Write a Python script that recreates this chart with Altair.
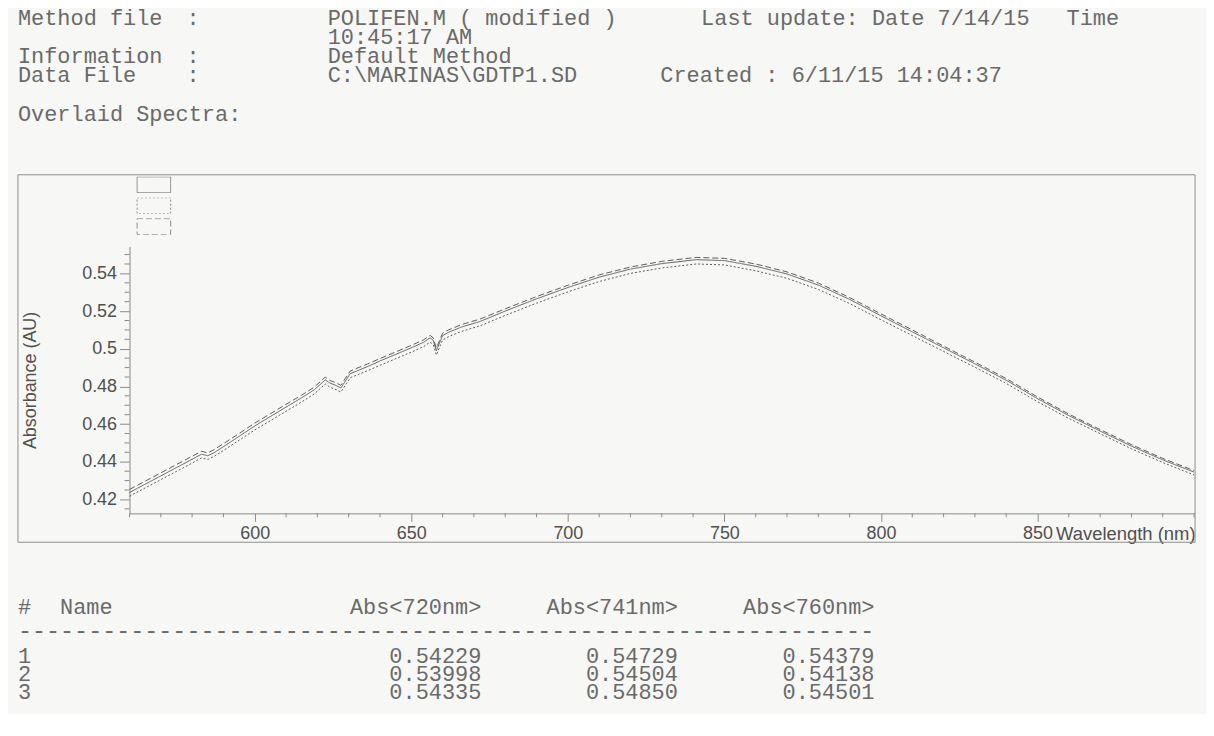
import altair as alt
import pandas as pd

# ---------------- spectra ----------------
wavelength = [560, 565, 570, 575, 580, 583, 585, 587, 590, 595,
              600, 605, 610, 615, 619, 621, 622.5, 624, 626, 627.5,
              629, 630.5, 633, 636, 640, 645, 650, 654, 656, 657,
              658, 659, 660, 662, 666, 672, 680, 690, 700, 710,
              720, 730, 741, 750, 760, 770, 780, 790, 800, 810,
              820, 830, 840, 850, 860, 870, 880, 890, 900]

abs_1 = [0.4237, 0.4281, 0.4325, 0.4369, 0.4413, 0.4440, 0.4432, 0.4448, 0.4480, 0.4535,
         0.4590, 0.4640, 0.4690, 0.4740, 0.4782, 0.4812, 0.4835, 0.4818, 0.4805, 0.4792,
         0.4830, 0.4868, 0.4885, 0.4905, 0.4935, 0.4970, 0.5005, 0.5035, 0.5058, 0.5045,
         0.4990, 0.5030, 0.5070, 0.5088, 0.5115, 0.5145, 0.5200, 0.5265, 0.5325, 0.5380,
         0.5423, 0.5452, 0.5473, 0.5468, 0.5438, 0.5397, 0.5338, 0.5262, 0.5175, 0.5090,
         0.5005, 0.4920, 0.4833, 0.4735, 0.4645, 0.4563, 0.4483, 0.4410, 0.4345]

abs_2 = [0.4217, 0.4261, 0.4305, 0.4349, 0.4393, 0.4420, 0.4412, 0.4428, 0.4460, 0.4514,
         0.4569, 0.4618, 0.4668, 0.4718, 0.4760, 0.4790, 0.4813, 0.4796, 0.4783, 0.4770,
         0.4808, 0.4846, 0.4863, 0.4883, 0.4912, 0.4947, 0.4982, 0.5012, 0.5035, 0.5022,
         0.4967, 0.5007, 0.5047, 0.5065, 0.5092, 0.5122, 0.5177, 0.5242, 0.5302, 0.5357,
         0.5400, 0.5429, 0.5450, 0.5445, 0.5414, 0.5374, 0.5315, 0.5240, 0.5154, 0.5070,
         0.4986, 0.4902, 0.4816, 0.4719, 0.4630, 0.4549, 0.4469, 0.4396, 0.4330]

abs_3 = [0.4253, 0.4297, 0.4341, 0.4385, 0.4429, 0.4456, 0.4447, 0.4464, 0.4496, 0.4550,
         0.4605, 0.4655, 0.4705, 0.4754, 0.4796, 0.4826, 0.4849, 0.4832, 0.4819, 0.4806,
         0.4844, 0.4882, 0.4899, 0.4919, 0.4948, 0.4983, 0.5018, 0.5048, 0.5071, 0.5058,
         0.5004, 0.5043, 0.5083, 0.5101, 0.5128, 0.5158, 0.5212, 0.5277, 0.5337, 0.5392,
         0.5434, 0.5464, 0.5485, 0.5480, 0.5450, 0.5408, 0.5349, 0.5272, 0.5185, 0.5100,
         0.5014, 0.4929, 0.4842, 0.4744, 0.4653, 0.4571, 0.4491, 0.4418, 0.4353]

sample_ids = ["1", "2", "3"]

# ---------------- axes ----------------
x_domain = [560, 900]
y_domain = [0.4126, 0.5543]
x_major = [600, 650, 700, 750, 800, 850]
x_minor = [560, 570, 580, 590, 610, 620, 630, 640, 660, 670, 680, 690, 710, 720, 730,
           740, 760, 770, 780, 790, 810, 820, 830, 840, 860, 870, 880, 890, 900]
y_major = [0.42, 0.44, 0.46, 0.48, 0.50, 0.52, 0.54]
y_minor = [0.415, 0.425, 0.43, 0.435, 0.445, 0.45, 0.455, 0.465, 0.47, 0.475, 0.485,
           0.49, 0.495, 0.505, 0.51, 0.515, 0.525, 0.53, 0.535, 0.545, 0.55]

# ---------------- report text ----------------
method_file = "POLIFEN.M ( modified )"
last_update = "Last update: Date 7/14/15"
last_time = "Time"
update_time = "10:45:17 AM"
information = "Default Method"
data_file = "C:\\MARINAS\\GDTP1.SD"
created = "Created : 6/11/15 14:04:37"
section = "Overlaid Spectra:"

table_cols = ["Abs<720nm>", "Abs<741nm>", "Abs<760nm>"]
abs720 = [0.54229, 0.53998, 0.54335]
abs741 = [0.54729, 0.54504, 0.54850]
abs760 = [0.54379, 0.54138, 0.54501]

W, H = 1069, 268
OX, OY = 130, 246          # page position of the plot origin
MONO = "Liberation Mono"
SANS = "Liberation Sans"
TXT = "#6a6a6a"
AX = "#8a8a8a"
LBL = "#505050"

rows = []
for sid, vals in zip(sample_ids, [abs_1, abs_2, abs_3]):
    for w, v in zip(wavelength, vals):
        rows.append({"wavelength": w, "absorbance": v, "sample": sid})
df = pd.DataFrame(rows)

xs = alt.Scale(domain=x_domain, nice=False, zero=False)
ys = alt.Scale(domain=y_domain, nice=False, zero=False)

x_axis = alt.Axis(
    values=x_major, tickSize=8, tickColor=AX, domainColor=AX, grid=False,
    labelFont=SANS, labelFontSize=18, labelColor=LBL, labelPadding=3,
    labelFlush=False,
    title="Wavelength (nm)", titleFont=SANS, titleFontSize=18.5,
    titleFontWeight="normal", titleColor=LBL, titleX=W + 1, titleY=11,
    titleAlign="right", titleBaseline="top")
y_axis = alt.Axis(
    values=y_major, format=".2~f", tickSize=10, tickColor=AX, domainColor=AX,
    grid=False, labelFont=SANS, labelFontSize=18, labelColor=LBL,
    labelPadding=3, labelFlush=False,
    title="Absorbance (AU)", titleFont=SANS, titleFontSize=18,
    titleFontWeight="normal", titleColor=LBL, titlePadding=42)

lines = alt.Chart(df).mark_line(color="#5e5e5e", strokeWidth=1).encode(
    x=alt.X("wavelength:Q", scale=xs, axis=x_axis),
    y=alt.Y("absorbance:Q", scale=ys, axis=y_axis),
    strokeDash=alt.StrokeDash("sample:N", scale=alt.Scale(
        domain=sample_ids, range=[[1, 0], [2, 2], [6, 3]]),
        legend=alt.Legend(title=None, orient="none", legendX=7, legendY=-70,
                          symbolType="M-1,-0.47H1V0.47H-1Z", symbolSize=1156,
                          symbolStrokeColor="#6a6a6a", symbolFillColor="transparent",
                          symbolStrokeWidth=1, labelExpr="''", clipHeight=16,
                          rowPadding=5, padding=0, labelOffset=0)),
)

ytick_minor = alt.Chart(pd.DataFrame({"absorbance": y_minor})).mark_rule(
    color=AX, strokeWidth=1).encode(
    y=alt.Y("absorbance:Q", scale=ys, axis=y_axis), x=alt.value(-5), x2=alt.value(0))

xtick_minor = alt.Chart(pd.DataFrame({"wavelength": x_minor})).mark_rule(
    color=AX, strokeWidth=1).encode(
    x=alt.X("wavelength:Q", scale=xs, axis=x_axis), y=alt.value(H), y2=alt.value(H + 4))

frame = alt.Chart(alt.Data(values=[{}])).mark_rect(
    fillOpacity=0, stroke="#8c8c8c", strokeWidth=1).encode(
    x=alt.value(18 - OX), x2=alt.value(1200 - OX),
    y=alt.value(174 - OY), y2=alt.value(543 - OY))

# page-pixel positions of the report's text pieces
COL = 14.1
left_items = [
    ("Method file", 18, 24), (":", 18 + 12 * COL, 24), (method_file, 329, 24),
    (last_update, 704, 24), (last_time, 1071, 24),
    (update_time, 329, 43),
    ("Information", 18, 62), (":", 18 + 12 * COL, 62), (information, 329, 62),
    ("Data File", 18, 81), (":", 18 + 12 * COL, 81), (data_file, 329, 81),
    (created, 663, 81),
    (section, 18, 120),
    ("#", 18, 615), ("Name", 18 + 3 * COL, 615),
]
row_y = [664, 682, 700]
for sid, ry in zip(sample_ids, row_y):
    left_items.append((sid, 18, ry))

col_right = [18 + 33 * COL, 18 + 47 * COL, 18 + 61 * COL]
right_items = [(c, xr, 615) for c, xr in zip(table_cols, col_right)]
for ry, vals in zip(row_y, zip(abs720, abs741, abs760)):
    for v, xr in zip(vals, col_right):
        right_items.append((f"{v:.5f}", xr, ry))


def to_df(items):
    return pd.DataFrame({"text": [t for t, _, _ in items],
                         "px": [x - OX for _, x, _ in items],
                         "py": [y - OY for _, _, y in items]})


text_left = alt.Chart(to_df(left_items)).mark_text(
    font=MONO, fontSize=22, color=TXT, align="left", baseline="alphabetic").encode(
    x=alt.X("px:Q", scale=None), y=alt.Y("py:Q", scale=None), text="text:N")

text_right = alt.Chart(to_df(right_items)).mark_text(
    font=MONO, fontSize=22, color=TXT, align="right", baseline="alphabetic").encode(
    x=alt.X("px:Q", scale=None), y=alt.Y("py:Q", scale=None), text="text:N")

dash_line = alt.Chart(to_df([("-" * 61, 18, 639)])).mark_text(
    font=MONO, fontSize=23.5, color=TXT, align="left", baseline="alphabetic").encode(
    x=alt.X("px:Q", scale=None), y=alt.Y("py:Q", scale=None), text="text:N")

chart = alt.layer(lines, ytick_minor, xtick_minor, frame,
                  text_left, text_right, dash_line).properties(
    width=W, height=H,
    padding={"left": 122, "top": 238, "right": 12, "bottom": 200},
    autosize=alt.AutoSizeParams(type="none"),
    background="#f7f7f5",
).configure_view(stroke=None)

chart.save("out.html", embed_options={"renderer": "svg", "actions": False})
